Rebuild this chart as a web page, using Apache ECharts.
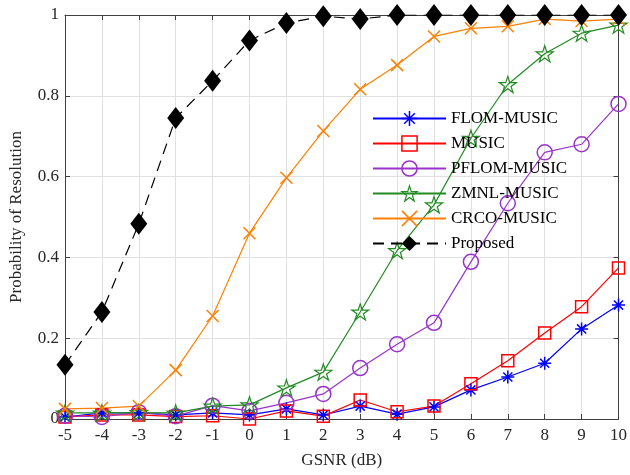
<!DOCTYPE html>
<html><head><meta charset="utf-8">
<script src="https://cdn.jsdelivr.net/npm/echarts@6/dist/echarts.min.js"></script>
<style>html,body{margin:0;padding:0;background:#fff}#c{width:630px;height:475px}</style>
</head><body><div id="c"></div>
<script>
const gsnr = [-5,-4,-3,-2,-1,0,1,2,3,4,5,6,7,8,9,10];
const flom   = [0.005,0.015,0.015,0.01,0.015,0.01,0.025,0.01,0.032,0.012,0.03,0.072,0.104,0.138,0.223,0.282];
const music  = [0.005,0.01,0.01,0.006,0.008,0.0,0.02,0.007,0.047,0.018,0.032,0.087,0.144,0.213,0.278,0.374];
const pflom  = [0.008,0.005,0.017,0.007,0.033,0.02,0.04,0.062,0.126,0.185,0.238,0.389,0.534,0.66,0.68,0.78];
const zmnl   = [0.015,0.015,0.016,0.015,0.032,0.035,0.077,0.116,0.265,0.417,0.53,0.695,0.828,0.904,0.955,0.975];
const crco   = [0.025,0.027,0.032,0.121,0.255,0.46,0.597,0.713,0.816,0.876,0.947,0.967,0.972,0.99,0.985,0.99];
const proposed = [0.134,0.265,0.483,0.745,0.837,0.937,0.98,0.997,0.99,1.0,1.0,1.0,1.0,1.0,1.0,1.0];
const yTicks = ['0','0.2','0.4','0.6','0.8','1'];

const FONT = 'Liberation Serif';
const starPath = 'path://M100,0 L122.45,69.1 L195.1,69.1 L136.3,111.8 L158.8,180.9 L100,138.2 L41.2,180.9 L63.7,111.8 L4.9,69.1 L77.55,69.1 Z';
const astPath = 'path://M10,0 L10,20 M0,10 L20,10 M3,3 L17,17 M17,3 L3,17';
const xPath = 'path://M0,0 L20,20 M20,0 L0,20';
const diaPath = 'path://M10,0 L20,13 L10,26 L0,13 Z';

function mk(name, data, color, symbol, size, extra) {
  return Object.assign({
    name, type: 'line', data: gsnr.map((x,i)=>[x,data[i]]),
    symbol, symbolSize: size, symbolKeepAspect: true,
    showAllSymbol: true,
    lineStyle: {color, width: 1.2},
    itemStyle: {color: 'rgba(0,0,0,0)', borderColor: color, borderWidth: 1.5},
    emphasis: {disabled: true}, animation: false, z: 3
  }, extra || {});
}

const series = [
  mk('FLOM-MUSIC', flom, '#0000ff', astPath, 13),
  mk('MUSIC', music, '#ff0000', 'rect', 12),
  mk('PFLOM-MUSIC', pflom, '#9933cc', 'circle', 15),
  mk('ZMNL-MUSIC', zmnl, '#228b22', starPath, 17, {
    itemStyle: {color: 'rgba(0,0,0,0)', borderColor: '#228b22', borderWidth: 1.2}
  }),
  mk('CRCO-MUSIC', crco, '#ff8000', xPath, 12),
  mk('Proposed', proposed, '#000000', diaPath, [17,22], {
    symbolKeepAspect: false,
    lineStyle: {color: '#000', width: 1.2, type: [11,7]},
    itemStyle: {color: '#000', borderColor: '#000', borderWidth: 0}
  })
];

const legendData = series.map(s => ({
  name: s.name,
  itemStyle: s.name === 'Proposed'
    ? {color: '#000', borderWidth: 0}
    : {color: 'rgba(0,0,0,0)', borderColor: s.lineStyle.color, borderWidth: s.itemStyle.borderWidth}
}));

const axisCol = '#404040';
const chart = echarts.init(document.getElementById('c'), null, {renderer: 'canvas'});
chart.setOption({
  animation: false,
  backgroundColor: '#fff',
  grid: {left: 62, right: 10, top: 15, bottom: 56, containLabel: false},
  legend: {
    left: 372, top: 110, orient: 'vertical', padding: 0,
    itemWidth: 73, itemHeight: 19, itemGap: 8,
    textStyle: {fontFamily: FONT, fontSize: 17, color: '#000'},
    data: legendData, selectedMode: false
  },
  xAxis: [{
    type: 'value', min: -5, max: 10, interval: 1,
    name: 'GSNR (dB)', nameLocation: 'middle', nameGap: 33,
    nameTextStyle: {fontFamily: FONT, fontSize: 17, color: '#262626'},
    axisLine: {show: true, onZero: false, lineStyle: {color: axisCol, width: 1}},
    axisTick: {show: true, inside: true, length: 5, lineStyle: {color: axisCol}},
    axisLabel: {fontFamily: FONT, fontSize: 17, color: '#262626', margin: 8},
    splitLine: {show: true, lineStyle: {color: '#e0e0e0', width: 1}}
  },{
    type: 'value', min: -5, max: 10, interval: 1, position: 'top',
    axisLine: {show: true, onZero: false, lineStyle: {color: axisCol, width: 1}},
    axisTick: {show: true, inside: true, length: 5, lineStyle: {color: axisCol}},
    axisLabel: {show: false}, splitLine: {show: false}
  }],
  yAxis: [{
    type: 'value', min: 0, max: 1, interval: 0.2,
    name: 'Probability of Resolution', nameLocation: 'middle', nameGap: 40,
    nameTextStyle: {fontFamily: FONT, fontSize: 17, color: '#262626'},
    axisLine: {show: true, onZero: false, lineStyle: {color: axisCol, width: 1}},
    axisTick: {show: true, inside: true, length: 5, lineStyle: {color: axisCol}},
    axisLabel: {fontFamily: FONT, fontSize: 17, color: '#262626', margin: 6,
      formatter: (v)=> { const i = Math.round(v/0.2); return yTicks[i]; }},
    splitLine: {show: true, lineStyle: {color: '#e0e0e0', width: 1}}
  },{
    type: 'value', min: 0, max: 1, interval: 0.2, position: 'right',
    axisLine: {show: true, onZero: false, lineStyle: {color: axisCol, width: 1}},
    axisTick: {show: true, inside: true, length: 5, lineStyle: {color: axisCol}},
    axisLabel: {show: false}, splitLine: {show: false}
  }],
  series
});
</script></body></html>
